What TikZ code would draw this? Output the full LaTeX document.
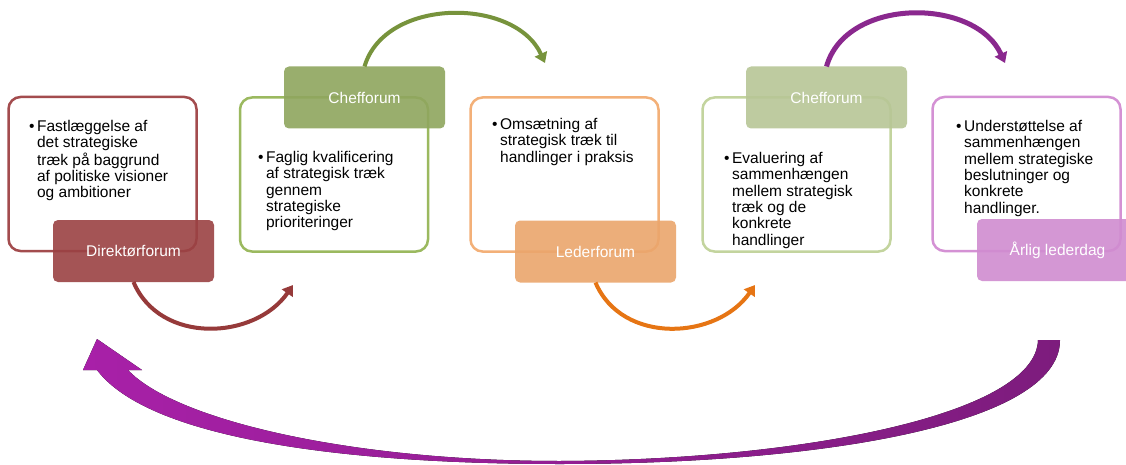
\documentclass[tikz,border=0pt]{standalone}
\usepackage{fontspec}
\setmainfont{Liberation Sans}
\usetikzlibrary{arrows.meta}

\definecolor{RedLine}{RGB}{163,76,78}
\definecolor{RedTag}{RGB}{155,66,67}
\definecolor{RedArr}{RGB}{150,58,58}
\definecolor{GreenLine}{RGB}{155,185,95}
\definecolor{GreenTag}{RGB}{143,166,94}
\definecolor{GreenArr}{RGB}{119,147,60}
\definecolor{OrangeLine}{RGB}{243,176,120}
\definecolor{OrangeTag}{RGB}{235,166,108}
\definecolor{OrangeArr}{RGB}{230,117,20}
\definecolor{SageLine}{RGB}{195,212,158}
\definecolor{SageTag}{RGB}{183,198,150}
\definecolor{LilacLine}{RGB}{212,145,212}
\definecolor{LilacTag}{RGB}{208,140,208}
\definecolor{PurpArr}{RGB}{138,40,142}
\definecolor{PurpLeft}{RGB}{168,32,168}
\definecolor{PurpRight}{RGB}{125,28,125}

\newcommand{\Pkt}[1]{\begin{tabular}{@{}l@{\hspace{2.5pt}}l@{}}\textbullet & #1\end{tabular}}

\begin{document}
\begin{tikzpicture}[x=1pt, y=-1pt,
BoxStyle/.style={draw, line width=2.5pt, rounded corners=12pt, fill=white,
                minimum width=188pt, minimum height=154pt, outer sep=0pt},
TagStyle/.style={rounded corners=5pt, fill opacity=0.9, text opacity=1,
                text=white, minimum width=161pt, minimum height=62pt,
                outer sep=0pt, font=\fontsize{15.5}{16.3}\selectfont},
TxtStyle/.style={anchor=north west, inner sep=0pt,
                font=\fontsize{15.5}{16.3}\selectfont},
ArrStyle/.style={line width=4pt, -{Triangle[length=10pt,width=13pt]}},]
\path[use as bounding box, fill=white] (0,0) rectangle (1126,465);

% boxes
\node [BoxStyle, draw=RedLine] (b1) at (102.5,174) {};
\node [BoxStyle, draw=GreenLine] (b2) at (334,174.5) {};
\node [BoxStyle, draw=OrangeLine] (b3) at (564.5,174.5) {};
\node [BoxStyle, draw=SageLine] (b4) at (796.5,174.5) {};
\node [BoxStyle, draw=LilacLine] (b5) at (1026.5,174) {};

% tags
\node [TagStyle, fill=RedTag] (dir) at (133.5,251) {Direktørforum};
\node [TagStyle, fill=GreenTag] (chef1) at (364.5,97.5) {Chefforum};
\node [TagStyle, fill=OrangeTag] (leder) at (595.5,251.5) {Lederforum};
\node [TagStyle, fill=SageTag] (chef2) at (826.5,97.5) {Chefforum};
\node [TagStyle, fill=LilacTag] (aarlig) at (1057.5,250) {Årlig lederdag};

% texts
\node [TxtStyle] (t1) at (29,120) {\Pkt{Fastlæggelse af\\ & det strategiske\\
  & træk på baggrund\\ & af politiske visioner\\ & og ambitioner}};
\node [TxtStyle] (t2) at (258,151) {\Pkt{Faglig kvalificering\\
  & af strategisk træk\\ & gennem\\ & strategiske\\ & prioriteringer}};
\node [TxtStyle] (t3) at (492,118) {\Pkt{Omsætning af\\ & strategisk træk til\\
  & handlinger i praksis}};
\node [TxtStyle] (t4) at (724,152) {\Pkt{Evaluering af\\ & sammenhængen\\
  & mellem strategisk\\ & træk og de\\ & konkrete\\ & handlinger}};
\node [TxtStyle] (t5) at (956,120) {\Pkt{Understøttelse af\\ & sammenhængen\\
  & mellem strategiske\\ & beslutninger og\\ & konkrete\\ & handlinger.}};

% arrow ends
\coordinate (e1) at (293,285);
\coordinate (e2) at (545,63);
\coordinate (e3) at (755,285);
\coordinate (e4) at (1005,63);

\draw [ArrStyle, RedArr] (dir.south) .. controls (160,345) and (255,340) .. (e1);
\draw [ArrStyle, GreenArr] (chef1.north) .. controls (385,-3) and (515,-3) .. (e2);
\draw [ArrStyle, OrangeArr] (leder.south) .. controls (622,345) and (717,340) .. (e3);
\draw [ArrStyle, PurpArr, line width=5pt] (chef2.north) .. controls (846,-3) and (975,-3) .. (e4);

% big return arrow
\fill [left color=PurpLeft, right color=PurpRight]
  (1060,340) -- (1038,340) .. controls (1036,415) and (800,460) .. (560,461)
  .. controls (350,461) and (175,420) .. (128,370) -- (142,370) -- (97,339)
  -- (83,370) -- (97,370) .. controls (150,440) and (350,464) .. (560,464)
  .. controls (820,464) and (1060,425) .. (1060,340) -- cycle;
\end{tikzpicture}
\end{document}
